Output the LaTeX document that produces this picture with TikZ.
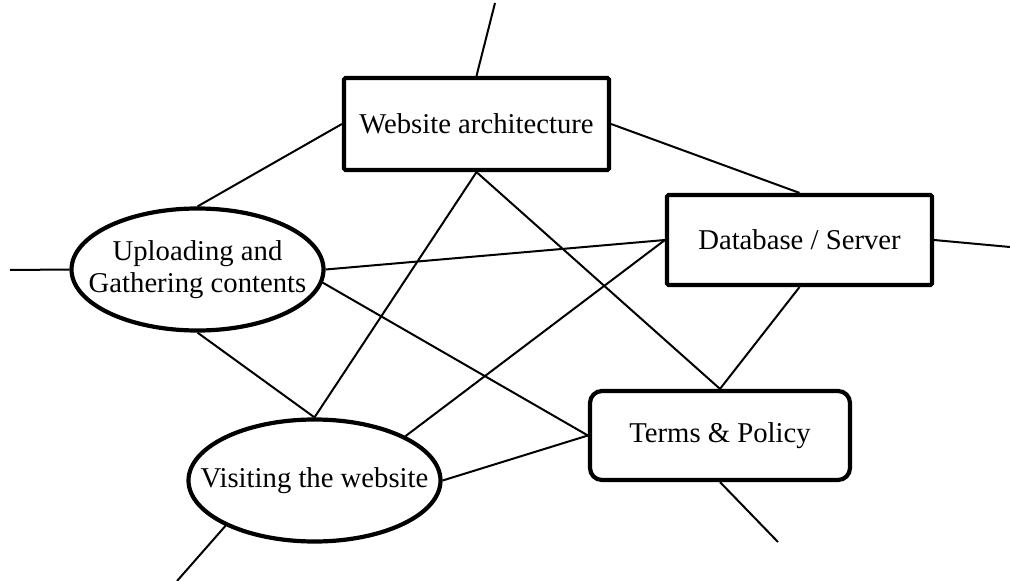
\documentclass[tikz,border=0pt]{standalone}
\usepackage{fontspec}
\setmainfont{Liberation Serif}
\usetikzlibrary{shapes.geometric}
\begin{document}
\begin{tikzpicture}[x=1pt,y=-1pt,
  every node/.style={font=\fontsize{28.7}{32}\selectfont, align=center},
  sqbox/.style={draw, line width=4.2pt, rounded corners=1.5pt, fill=white, inner sep=0pt},
  rndbox/.style={draw, line width=4.2pt, rounded corners=12pt, fill=white, inner sep=0pt},
  oval/.style={draw, ellipse, line width=4.2pt, fill=white, inner sep=0pt},
  link/.style={line width=2pt}]
\useasboundingbox (0,0) rectangle (1010,581);
% nodes
\node[sqbox, minimum width=265pt, minimum height=92pt] (web) at (476.5,124) {Website architecture};
\node[sqbox, minimum width=265pt, minimum height=90pt] (db) at (799.5,240) {Database / Server};
\node[rndbox, minimum width=260pt, minimum height=89pt] (terms) at (720,435.5) {Terms \& Policy};
\node[oval, minimum width=252pt, minimum height=122pt, label={[inner sep=0pt]center:{Uploading and\\Gathering contents}}] (upl) at (197.5,269.5) {};
\node[oval, minimum width=252pt, minimum height=122pt, label={[inner sep=0pt]center:{Visiting the website}}] (vis) at (314.5,480.5) {};
% free ends
\coordinate (fweb) at (495,3);
\coordinate (fdb) at (1010,247);
\coordinate (fupl) at (10,270);
\coordinate (fvis) at (177,581);
\coordinate (fterms) at (778,542);
% connectors
\draw[link] (web.north) -- (fweb);
\draw[link] (web.west) -- (upl.north);
\draw[link] (web.east) -- (db.north);
\draw[link] (web.south) -- (vis.north);
\draw[link] (web.south) -- (terms.north);
\draw[link] (upl.east) -- (db.west);
\draw[link] (upl.-6) -- (terms.west);
\draw[link] (upl.south) -- (vis.north);
\draw[link] (upl.west) -- (fupl);
\draw[link] (db.east) -- (fdb);
\draw[link] (db.south) -- (terms.north);
\draw[link] (db.west) -- (vis.26);
\draw[link] (vis.east) -- (terms.west);
\draw[link] (vis.207) -- (fvis);
\draw[link] (terms.south) -- (fterms);
\end{tikzpicture}
\end{document}
